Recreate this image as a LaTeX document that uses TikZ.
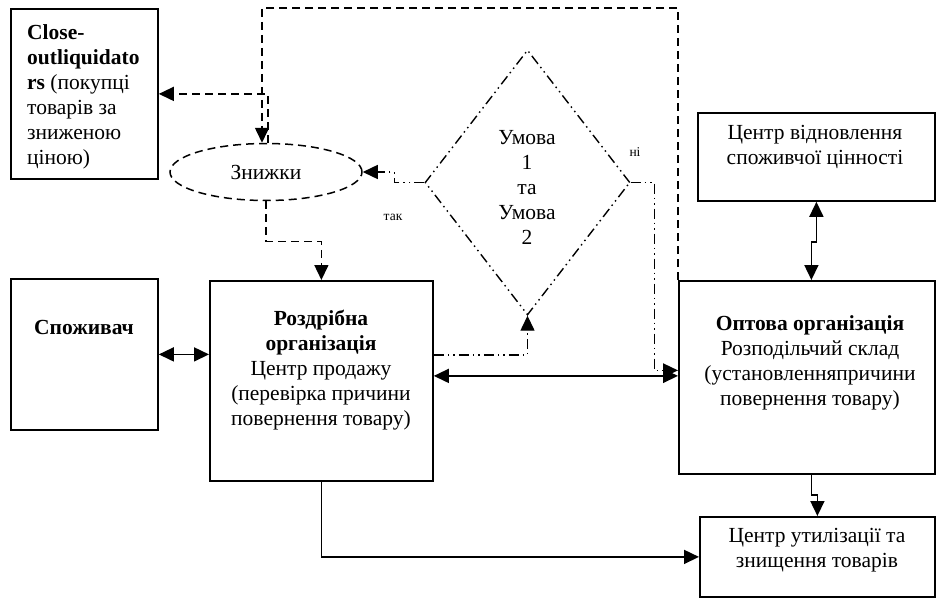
\documentclass[tikz,border=0pt]{standalone}
\usepackage{fontspec}
\setmainfont{Liberation Serif}
\usepackage{tikz}
\usetikzlibrary{shapes.geometric}
\usetikzlibrary{arrows.meta}
\usetikzlibrary{calc}

\begin{document}
\begin{tikzpicture}[x=1pt,y=-1pt,font=\fontsize{21.5}{25}\selectfont,
    box/.style={draw,line width=1.8pt,inner sep=0pt,anchor=north west},
    txt/.style={inner sep=0pt,align=center},
    dashline/.style={line width=1.5pt,dash pattern=on 8pt off 5pt},
    dotline/.style={line width=1.4pt,dash pattern=on 10pt off 4pt on 1.5pt off 4pt on 1.5pt off 4pt},
    tip/.style={-{Triangle[length=15pt,width=14pt]}},
    tips/.style={{Triangle[length=15pt,width=14pt]}-{Triangle[length=15pt,width=14pt]}}]
        \useasboundingbox (0,0) rectangle (936,599);
        % boxes
        \node[box,minimum width=147,minimum height=170] (close) at (10,8) {};
        \node[box,minimum width=147,minimum height=151] (spoz) at (10,278) {};
        \node[box,minimum width=223,minimum height=200] (roz) at (209,280) {};
        \node[box,minimum width=256,minimum height=193] (opt) at (678,280) {};
        \node[box,minimum width=237,minimum height=88] (vidn) at (697,112) {};
        \node[box,minimum width=235,minimum height=80] (util) at (699,516) {};
        \node[draw,ellipse,dashline,inner sep=0pt,minimum width=192,minimum height=57] (zn) at (266,172) {Знижки};
        \node[draw,diamond,dotline,inner sep=0pt,minimum width=205,minimum height=265] (cond) at (527.5,182.5) {};
        % texts
        \node[inner sep=0pt,anchor=west,align=left] (close_t) at (27,97) {\textbf{Close-}\\\textbf{outliquidato}\\\textbf{rs} (покупці\\товарів за\\зниженою\\ціною)};
        \node[txt] (spoz_t) at (84,327) {\textbf{Споживач}};
        \node[txt] (roz_t) at (321,370) {\textbf{Роздрібна}\\\textbf{організація}\\Центр продажу\\(перевірка причини\\повернення товару)};
        \node[txt] (opt_t) at (810,363) {\textbf{Оптова організація}\\Розподільчий склад\\(установленняпричини\\повернення товару)};
        \node[txt] (vidn_t) at (815,147) {Центр відновлення\\споживчої цінності};
        \node[txt] (util_t) at (817,550) {Центр утилізації та\\знищення товарів};
        \node[txt] (cond_t) at (527,187) {Умова\\1\\та\\Умова\\2};
        \node[inner sep=0pt,font=\fontsize{13.5}{15}\selectfont] (tak) at (393,217) {так};
        \node[inner sep=0pt,font=\fontsize{13.5}{15}\selectfont] (ni) at (635,152) {ні};
        \coordinate (top) at (677,8);
        % dashed links
        \draw[dashline,tip] (opt.north west) -- (opt.north west |- top) -| ([xshift=-4pt]zn.north);
        \draw[dashline,tip] ([xshift=2pt]zn.north) |- (close.east);
        \draw[dashline,tip] (zn.south) -- ++(0,40) -| (roz.north);
        % condition links
        \draw[dotline,tip] (cond.west) -- ++(-30,0) |- (zn.east);
        \draw[dotline,tip] (cond.east) -- ++(24,0) |- ([yshift=7pt]opt.west);
        \draw[dotline,tip] ([yshift=26pt]roz.east) -| (cond.south);
        % solid links
        \draw[line width=1.6pt,tips] (spoz.east) -- (spoz.east -| roz.west);
        \draw[line width=1.6pt,tips] ([yshift=5pt]roz.east) -- ([yshift=5pt]roz.east -| opt.west);
        \draw[line width=1.6pt,tips] (vidn.south) -- ++(0,40) -| ([xshift=4.5pt]opt.north);
        \draw[line width=1.6pt,tip] ([xshift=4.5pt]opt.south) -- ++(0,20) -| (util.north);
        \draw[line width=1.6pt,tip] (roz.south) |- (util.west);
\end{tikzpicture}
\end{document}
